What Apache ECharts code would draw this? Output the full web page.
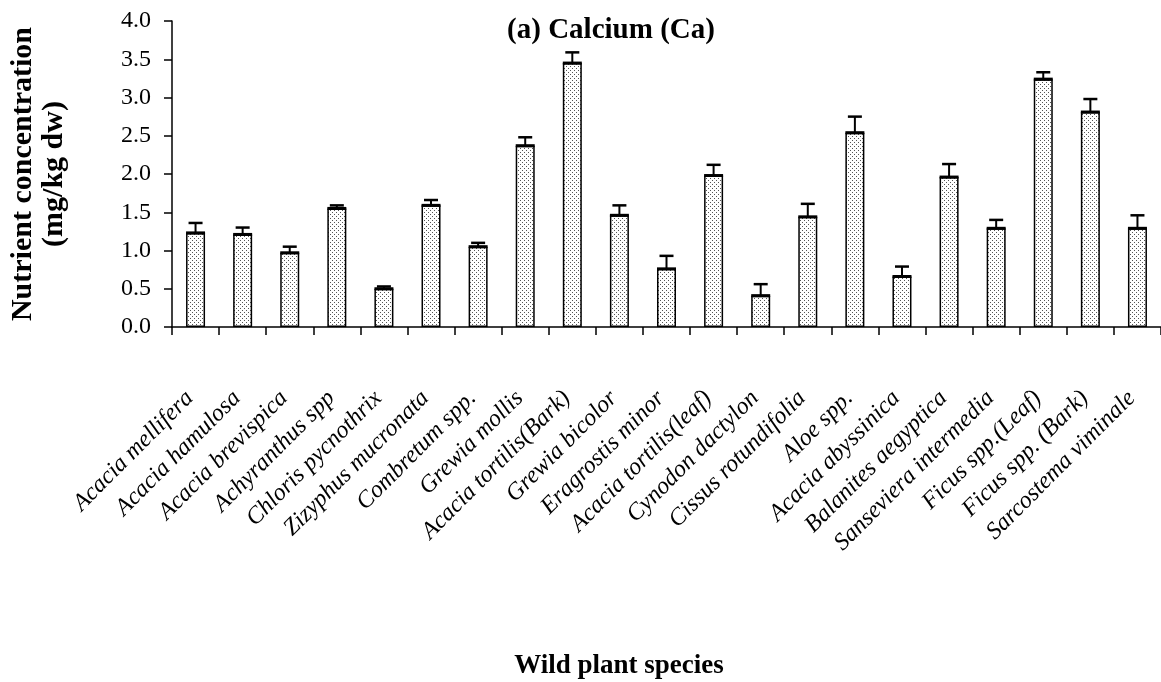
<!DOCTYPE html>
<html>
<head>
<meta charset="utf-8">
<script src="https://cdn.jsdelivr.net/npm/echarts@6/dist/echarts.min.js"></script>
<style>
html,body{margin:0;padding:0;background:#fff;}
#chart{width:1161px;height:682px;}
</style>
</head>
<body>
<div id="chart"></div>
<script>
var categories = ["Acacia mellifera","Acacia hamulosa","Acacia brevispica","Achyranthus spp","Chloris pycnothrix","Zizyphus mucronata","Combretum spp.","Grewia mollis","Acacia tortilis(Bark)","Grewia bicolor","Eragrostis minor","Acacia tortilis(leaf)","Cynodon dactylon","Cissus rotundifolia","Aloe spp.","Acacia abyssinica","Balanites aegyptica","Sanseviera intermedia","Ficus spp.(Leaf)","Ficus spp. (Bark)","Sarcostema viminale"];
var meanValues = [1.23,1.21,0.97,1.55,0.50,1.59,1.05,2.37,3.45,1.46,0.76,1.98,0.41,1.44,2.54,0.66,1.96,1.29,3.24,2.81,1.29];
var errorValues = [0.13,0.09,0.08,0.04,0.03,0.07,0.05,0.11,0.14,0.13,0.17,0.14,0.15,0.17,0.21,0.13,0.17,0.11,0.09,0.17,0.17];
var yTicks = [0,0.5,1.0,1.5,2.0,2.5,3.0,3.5,4.0];

// dotted fill pattern
var pc = document.createElement('canvas');
pc.width = 4; pc.height = 4;
var pctx = pc.getContext('2d');
pctx.fillStyle = '#ffffff'; pctx.fillRect(0,0,4,4);
pctx.fillStyle = '#555555';
pctx.fillRect(0,0,1,1); pctx.fillRect(2,2,1,1);

var serif = '"Liberation Serif", "DejaVu Serif", serif';
var chart = echarts.init(document.getElementById('chart'));
var errData = meanValues.map(function(v,i){ return [i, v, errorValues[i]]; });

chart.setOption({
  animation: false,
  title: [
    {
      text: '(a) Calcium (Ca)',
      left: 606, top: 11, textAlign: 'center',
      textStyle: {fontFamily: serif, fontWeight: 'bold', fontSize: 29, color: '#000'}
    },
    {
      text: 'Wild plant species',
      left: 614, top: 648, textAlign: 'center',
      textStyle: {fontFamily: serif, fontWeight: 'bold', fontSize: 27, color: '#000'}
    }
  ],
  grid: {left: 168, right: 0, top: 21, bottom: 355, containLabel: false},
  xAxis: {
    type: 'category',
    data: categories,
    boundaryGap: true,
    axisLine: {lineStyle: {color: '#000', width: 1.5}},
    axisTick: {show: true, alignWithLabel: false, length: 8, lineStyle: {color: '#000', width: 1.5}},
    axisLabel: {
      interval: 0, rotate: 45, margin: 62,
      padding: [0, 8, 0, 0],
      fontFamily: serif, fontStyle: 'italic', fontSize: 24, color: '#000'
    }
  },
  yAxis: {
    type: 'value',
    min: 0, max: 4, interval: 0.5,
    name: 'Nutrient concentration\n(mg/kg dw)',
    nameLocation: 'middle',
    nameGap: 102,
    nameRotate: 90,
    nameTextStyle: {fontFamily: serif, fontWeight: 'bold', fontSize: 30, color: '#000', lineHeight: 31, align: 'center'},
    splitLine: {show: false},
    axisLine: {show: true, lineStyle: {color: '#000', width: 1.5}},
    axisTick: {show: true, length: 8, lineStyle: {color: '#000', width: 1.5}},
    axisLabel: {
      margin: 21,
      fontFamily: serif, fontSize: 24, color: '#000',
      formatter: function(v){ return v.toFixed(1); }
    }
  },
  series: [
    {
      type: 'bar',
      data: meanValues,
      barWidth: 19,
      itemStyle: {
        color: {image: pc, repeat: 'repeat'},
        borderColor: '#000', borderWidth: 1.5
      }
    },
    {
      type: 'custom',
      data: errData,
      z: 5,
      renderItem: function(params, api){
        var i = api.value(0), v = api.value(1), e = api.value(2);
        var base = api.coord([i, v]);
        var top = api.coord([i, v + e]);
        var cap = 7;
        var half = 9.5;
        var st = {stroke: '#000', lineWidth: 2};
        return {
          type: 'group',
          children: [
            {type: 'line', shape: {x1: base[0]-half, y1: base[1], x2: base[0]+half, y2: base[1]}, style: {stroke:'#000', lineWidth: 3}},
            {type: 'line', shape: {x1: base[0], y1: base[1], x2: top[0], y2: top[1]}, style: st},
            {type: 'line', shape: {x1: top[0]-cap, y1: top[1], x2: top[0]+cap, y2: top[1]}, style: {stroke:'#000', lineWidth: 2.5}}
          ]
        };
      }
    }
  ]
});
</script>
</body>
</html>
